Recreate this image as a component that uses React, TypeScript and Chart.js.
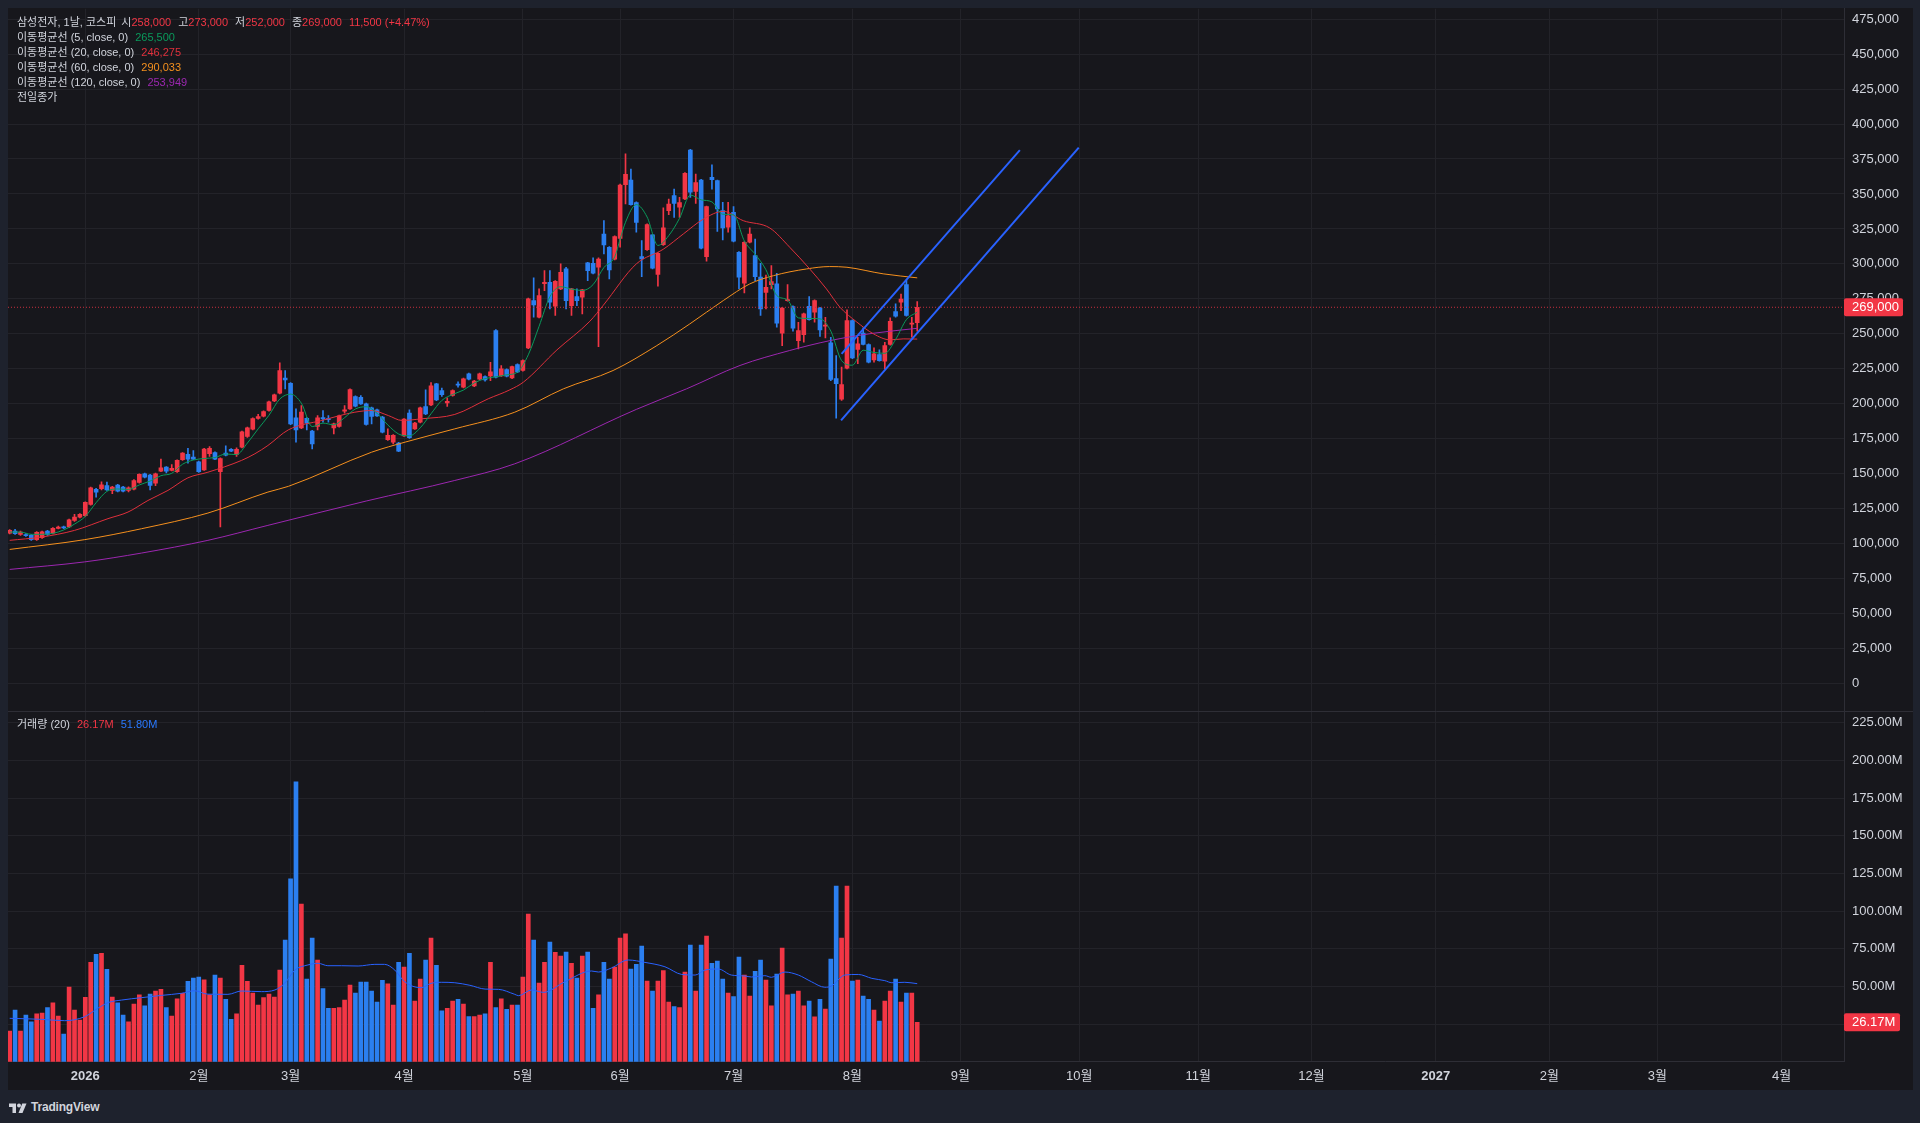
import React, { useEffect, useRef } from "react";
import { Chart, registerables } from "chart.js";

Chart.register(...registerables);

// ---------- data (prices in thousand KRW, volume in millions) ----------
const opens = [
  107.6,109.0,106.6,106.6,105.9,102.8,104.3,109.0,107.6,111.0,
  112.1,111.9,116.6,119.0,120.0,128.1,138.8,139.3,141.6,138.1,
  141.9,140.4,138.1,139.0,143.8,150.0,149.0,143.3,151.9,154.7,
  152.4,151.4,160.0,163.8,161.9,158.6,152.8,164.3,165.2,151.4,
  164.7,167.4,163.8,169.0,176.6,181.9,189.5,191.2,195.2,202.1,
  207.6,218.3,214.7,190.0,182.8,189.7,180.5,183.8,190.2,189.2,
  182.8,183.8,194.7,196.4,205.2,204.7,200.0,197.1,195.7,190.5,
  174.3,172.6,171.9,177.1,193.3,182.1,186.9,198.1,199.2,214.2,
  209.5,200.7,205.9,214.0,211.9,221.4,212.8,217.6,219.5,220.0,
  252.4,220.0,224.5,218.5,228.1,223.8,239.9,273.8,261.9,285.8,
  286.9,269.7,282.1,296.4,270.2,276.6,276.2,300.7,300.5,297.6,
  321.4,311.9,303.3,318.3,356.6,360.0,343.8,305.2,310.2,320.7,
  292.4,313.8,338.1,348.8,340.5,346.4,381.4,351.9,360.0,305.2,
  361.9,359.5,338.1,326.2,336.9,308.3,286.2,315.5,305.9,290.5,
  279.7,285.2,285.7,250.5,273.8,269.5,245.2,249.5,269.7,265.5,
  268.5,255.5,243.6,218.1,203.3,225.4,259.5,238.8,250.5,242.4,
  231.4,235.2,230.5,242.4,265.9,272.6,285.2,257.0,258.0,
];
const highs = [
  110.0,110.2,109.0,107.2,106.5,108.6,109.0,109.5,111.5,112.5,
  112.6,117.6,120.9,121.5,130.0,140.5,139.5,144.3,144.0,141.0,
  142.5,141.0,140.6,145.8,150.0,150.5,149.5,150.5,160.5,155.2,
  156.6,160.0,165.2,168.1,166.6,159.0,168.1,169.5,165.7,161.4,
  170.0,167.9,168.5,180.5,183.3,190.0,192.4,195.0,202.0,207.0,
  229.3,223.8,215.2,196.4,198.8,190.2,181.0,191.6,195.2,191.6,
  186.2,192.0,198.8,210.7,205.7,205.9,200.5,197.6,196.2,191.0,
  182.1,178.0,172.4,189.5,195.7,186.7,197.6,210.0,215.2,214.7,
  211.2,204.3,210.0,215.7,218.3,221.9,216.7,221.9,220.0,229.7,
  253.0,227.4,225.0,227.0,228.6,231.4,275.5,290.0,282.1,295.2,
  295.2,288.1,300.0,297.6,282.6,282.1,281.9,301.2,304.3,304.3,
  330.9,312.4,320.0,357.0,378.6,367.8,344.3,316.6,328.6,321.2,
  308.1,340.0,346.4,353.5,347.6,365.2,381.9,364.3,360.5,341.4,
  370.9,360.0,344.0,344.0,340.9,308.8,316.0,325.7,317.8,300.5,
  292.1,298.8,293.3,269.0,285.2,270.0,258.3,264.8,276.6,274.3,
  269.0,261.9,247.6,234.5,226.2,267.1,260.0,247.6,254.3,242.9,
  240.0,238.6,244.0,261.4,271.4,278.5,288.6,261.9,273.0,
];
const lows = [
  107.0,106.6,106.0,105.2,102.3,102.3,103.8,106.0,107.0,110.5,
  110.8,111.5,116.0,118.5,119.5,127.5,133.3,138.5,138.0,135.7,
  137.0,137.0,137.0,138.5,143.3,147.0,138.5,141.4,151.4,150.5,
  152.0,151.0,159.5,157.6,160.0,151.0,152.3,162.4,160.0,111.9,
  162.8,165.7,162.4,168.5,176.0,181.4,189.0,190.7,194.7,201.6,
  207.1,210.7,185.0,172.6,182.3,181.4,167.8,181.4,186.9,186.9,
  178.5,183.3,193.3,195.9,197.8,199.5,184.7,185.7,190.9,179.2,
  173.8,171.4,165.7,176.6,175.2,181.6,186.4,192.3,198.7,202.3,
  205.2,198.1,205.4,211.9,211.4,217.1,212.3,217.1,216.2,216.6,
  218.5,219.5,219.2,218.0,222.3,223.3,239.4,261.9,261.4,280.9,
  267.8,263.1,281.6,267.8,263.1,270.2,264.3,288.1,292.8,240.9,
  307.1,289.3,302.8,311.9,342.8,342.0,322.6,290.9,309.7,296.5,
  284.0,313.3,335.2,333.3,333.3,345.9,347.6,343.3,310.7,301.9,
  353.5,323.3,317.1,322.6,315.7,282.1,279.3,315.0,288.1,263.1,
  267.8,282.1,254.8,241.6,273.3,251.9,239.3,244.0,259.7,258.3,
  248.1,247.1,216.6,189.7,202.4,225.0,232.3,228.6,242.0,229.2,
  229.7,230.4,224.9,241.9,261.9,266.6,262.6,247.6,252.0,
];
const closes = [
  109.5,107.1,108.3,105.7,102.8,108.1,108.5,106.6,111.0,111.9,
  111.2,117.1,119.0,120.9,129.5,140.0,136.9,142.1,138.5,140.4,
  137.6,137.6,140.0,145.2,149.5,147.6,141.6,150.0,154.3,151.9,
  153.8,159.5,164.7,160.5,160.5,151.4,167.6,168.1,160.5,160.9,
  163.3,166.2,167.4,180.0,182.8,189.5,190.9,194.5,201.4,206.4,
  223.8,217.1,185.7,181.4,194.0,186.2,171.4,190.0,189.2,188.7,
  185.7,191.4,195.7,210.2,198.3,200.0,185.2,190.9,191.4,179.7,
  177.4,177.4,166.2,189.0,175.7,186.2,197.1,192.8,212.8,202.8,
  206.6,201.7,209.5,213.3,217.8,217.6,216.2,221.4,217.1,222.8,
  219.0,225.0,219.7,226.6,222.8,230.9,275.0,270.7,277.4,286.8,
  272.6,287.6,294.0,273.8,282.1,273.8,281.4,295.2,293.3,303.5,
  313.5,295.7,319.5,356.4,364.0,342.4,329.7,303.5,328.1,297.0,
  307.6,325.7,342.8,343.3,343.8,364.7,351.2,358.1,311.2,340.9,
  360.2,339.3,325.7,334.3,316.2,290.5,315.5,321.4,290.9,267.8,
  283.3,287.4,257.6,268.5,274.3,254.0,252.4,264.3,260.2,273.8,
  252.8,256.0,217.4,214.3,213.8,259.5,232.8,242.8,242.4,229.7,
  235.7,230.9,241.6,259.0,262.6,274.9,263.1,257.5,269.0,
];
const volumes = [
  20.4,34.3,20.4,31.0,26.4,31.7,32.3,35.9,39.0,30.3,
  18.4,49.6,34.3,27.7,42.7,65.9,71.2,71.9,61.3,42.9,
  39.0,31.0,26.4,38.3,44.3,37.0,44.9,46.9,48.0,35.9,
  30.3,41.8,45.4,53.3,55.5,56.2,54.4,44.3,57.5,55.5,
  41.4,28.1,31.7,63.9,53.3,45.6,37.6,42.5,44.9,42.9,
  60.8,80.7,121.4,185.7,104.6,54.9,82.1,67.5,48.5,35.4,
  35.4,35.9,40.9,50.9,45.6,52.9,52.9,46.9,39.6,54.0,
  51.6,37.6,65.9,62.8,71.9,40.3,54.9,67.5,82.1,63.9,
  33.7,35.4,40.3,41.4,38.3,29.9,29.9,31.0,31.7,65.9,
  35.9,41.8,34.8,37.6,37.6,56.2,98.0,80.7,52.2,65.9,
  79.4,72.5,70.1,72.8,65.3,55.5,70.1,72.8,35.4,44.3,
  65.9,54.9,62.8,82.1,84.9,61.5,64.6,76.8,53.5,46.9,
  53.5,60.4,39.6,36.5,35.9,59.5,77.4,46.9,77.4,83.4,
  65.3,66.8,54.9,45.6,43.2,69.5,57.5,43.6,60.0,67.5,
  54.2,37.0,58.2,75.4,44.3,44.9,46.9,37.0,40.3,29.7,
  41.4,35.0,68.1,116.5,82.1,116.5,53.5,54.2,43.6,41.4,
  34.3,27.0,40.3,46.9,54.9,39.6,45.6,45.6,26.17,
];

// moving averages (bar index, value)
const ma5Idx = [0,2,4,6,8,10,12,14,16,18,20,22,24,26,28,30,32,34,36,38,40,42,44,46,48,50,52,54,56,58,60,62,64,66,68,70,72,74,76,78,80,82,84,86,88,90,92,94,96,98,100,102,104,106,108,110,112,113,114,116,118,120,122,124,126,128,130,132,134,136,138,140,142,144,146,148,150,152,154,156,158,160,162,164,166,168];
const ma5Val = [108.3,108.3,106.7,106.7,107.4,109.8,114.0,119.5,129.3,137.4,139.1,138.8,142.0,144.8,148.6,150.3,156.8,159.8,160.9,161.6,164.1,163.7,171.9,182.1,191.8,203.4,206.9,200.4,183.7,186.2,185.0,190.1,196.3,197.9,193.2,184.9,178.4,177.1,182.8,192.9,202.4,206.7,209.8,214.9,218.0,219.3,220.7,222.6,235.0,255.4,276.5,283.7,282.0,281.0,285.2,297.4,305.1,317.7,329.8,342.4,333.5,313.2,320.2,332.6,349.2,345.8,344.3,335.5,335.1,316.4,306.9,295.8,277.4,274.2,261.4,261.0,260.7,252.0,230.9,227.6,238.3,236.7,236.1,246.0,260.2,265.5];
const ma20Idx = [0,5.8,12,18.2,21.9,25.6,29.3,33,36.7,42.9,45.4,47.8,51.6,57.8,63.9,67,70.1,72.6,76.3,82.4,88.6,92.6,95.1,101.3,107.4,109.9,116,121,124.7,128.4,132.1,135.8,140.7,144.4,148.1,151.2,153.7,156.8,159.9,163,165.4,168];
const ma20Val = [102.4,104.7,109.5,117.9,122.6,130.9,138.1,147.1,151.1,159.5,164.3,170.2,181.4,188.1,194.0,195.2,191.6,188.1,189.3,192.4,203.6,210.0,215.5,238.5,259.0,270.5,300.0,310.5,321.4,332.0,337.6,330.9,325.7,311.9,296.4,282.1,269.0,258.5,250.0,245.7,246.4,246.275];
const ma60Idx = [0,13.9,24.4,36.7,47.8,51.6,67,73.2,82.4,93.5,102.5,111.7,119.8,125.9,132.1,137,141.4,147.5,151.8,155,161.7,168];
const ma60Val = [95.9,102.9,110.7,121.9,136.9,141.0,165.4,172.6,182.1,194.0,210.7,223.8,241.6,257.1,273.8,285.7,291.6,296.4,298.1,297.6,292.9,290.033];
const ma120Idx = [0,13.9,24.4,36.7,47.8,66,82.4,93.5,116,125.3,135.2,144.4,151.9,159.8,168];
const ma120Val = [81.6,87.0,93.3,102.4,113.1,130.5,145.2,157.1,196.0,210.7,227.4,238.1,245.2,250.4,253.949];
const volMaIdx = [0,5.9,10.2,13.9,16.3,18.2,20.7,24.4,28.1,31.8,34.2,36.7,40.4,42.9,46.6,49.1,50.9,52.8,55.2,57.1,58.9,61.4,64.5,67.6,69.4,71.3,73.1,76.2,78,79.9,82.4,85.2,88,90.5,93.5,94.2,96.6,98.8,102.8,107.7,109,111.4,114.5,117.6,121.3,124.4,126.9,128.7,131.2,133.6,136.1,137.3,139.8,141,143.5,146,148.4,150.9,152.1,154.6,157.1,159.6,162,163.3,165.7,168];
const volMaVal = [28.8,28.1,27.2,29.9,35.4,39.2,40.9,42.5,44.0,45.4,47.1,44.8,44.7,46.9,46.5,47.6,52.0,60.8,64.2,65.3,63.7,63.7,63.5,64.6,64.6,60.8,53.1,49.1,52.0,52.7,52.4,50.7,48.2,48.0,44.7,43.8,47.6,46.0,53.1,60.2,59.5,62.2,67.5,65.9,63.0,57.9,57.5,60.8,61.5,57.5,56.9,56.2,57.1,56.0,59.5,57.5,53.1,49.4,50.2,57.5,57.9,55.3,53.8,52.4,52.7,51.8];

// trend channel (bar index, price)
const chanUpperIdx = [154.0, 187.0];
const chanUpperVal = [235.7, 381.4];
const chanLowerIdx = [153.9, 197.9];
const chanLowerVal = [188.1, 383.1];

// axis ticks
const monthIdx = [14, 35, 52, 73, 95, 113, 134, 156, 176, 198, 220, 241, 264, 285, 305, 328];
const monthLabels = ["2026", "2월", "3월", "4월", "5월", "6월", "7월", "8월", "9월", "10월", "11월", "12월", "2027", "2월", "3월", "4월"];
const priceTicks = [0,25,50,75,100,125,150,175,200,225,250,275,300,325,350,375,400,425,450,475];
const volTicks = [25, 50, 75, 100, 125, 150, 175, 200, 225];

// ---------- style ----------
const FONT = '"Liberation Sans", "Noto Sans CJK KR", Arial, sans-serif';
const FRAME = "#1e222d";
const BG = "#17171c";
const GRID = "#232329";
const AXIS = "#2e2e36";
const TEXT = "#d1d4dc";
const RED = "#f23645";
const BLUE = "#2b7ff0";
const C_MA5 = "#0a9a5c";
const C_MA20 = "#e0303c";
const C_MA60 = "#f5901e";
const C_MA120 = "#9c27b0";
const C_VOLMA = "#2962ff";
const C_CHAN = "#2962ff";
const TOP_SHIFT = 15; // compensates the chart-area top inset of the stacked layout

const fmtP = (v: number) => Math.round(v * 1000).toLocaleString("en-US");
const pts = (xs: number[], ys: number[]) => xs.map((x, i) => ({ x, y: ys[i] }));

export default function App() {
  const ref = useRef<HTMLCanvasElement | null>(null);

  const n = closes.length;
  const lastO = opens[n - 1], lastH = highs[n - 1], lastL = lows[n - 1], lastC = closes[n - 1];
  const prevC = closes[n - 2];
  const chg = lastC - prevC;
  const pct = (chg / prevC) * 100;
  const lastVol = volumes[n - 1];
  const lastVolMa = volMaVal[volMaVal.length - 1];

  useEffect(() => {
    const idx = closes.map((_, i) => i);
    const colors = idx.map((i) => (closes[i] >= opens[i] ? RED : BLUE));
    const X_MIN = -0.31, X_MAX = 339.56;

    const overlay = {
      id: "overlay",
      afterDraw(chart: any) {
        const ctx = chart.ctx;
        const y = chart.scales.y;
        const yv = chart.scales.yv;
        const area = chart.chartArea;
        ctx.save();
        ctx.strokeStyle = AXIS;
        ctx.lineWidth = 1;
        ctx.beginPath();
        const sy = Math.round(Math.min(y.bottom, yv.top)) + 0.5;
        ctx.moveTo(0, sy);
        ctx.lineTo(chart.width, sy);
        ctx.stroke();
        const box = (py: number, w: number, text: string) => {
          ctx.fillStyle = RED;
          ctx.beginPath();
          ctx.roundRect(area.right, py - 9, w, 18, 2);
          ctx.fill();
          ctx.fillStyle = "#ffffff";
          ctx.font = `13px ${FONT}`;
          ctx.textBaseline = "middle";
          ctx.textAlign = "left";
          ctx.fillText(text, area.right + 8, py + 0.5);
        };
        box(y.getPixelForValue(lastC), 59, fmtP(lastC));
        box(yv.getPixelForValue(lastVol), 56, lastVol.toFixed(2) + "M");
        ctx.restore();
      },
    };

    const lineDs = (label: string, data: any[], color: string, axis: string, width = 1, order = 3) => ({
      type: "line" as const,
      label,
      data,
      yAxisID: axis,
      borderColor: color,
      borderWidth: width,
      pointRadius: 0,
      cubicInterpolationMode: "monotone" as const,
      order,
    });

    const chart = new Chart(ref.current as HTMLCanvasElement, {
      type: "bar",
      data: {
        datasets: [
          {
            type: "bar",
            label: "body",
            data: idx.map((i) => ({ x: i, y: [opens[i], closes[i]] })) as any,
            yAxisID: "y",
            backgroundColor: colors,
            barThickness: 4,
            grouped: false,
            minBarLength: 1,
            order: 5,
          },
          {
            type: "bar",
            label: "wick",
            data: idx.map((i) => ({ x: i, y: [lows[i], highs[i]] })) as any,
            yAxisID: "y",
            backgroundColor: colors,
            barThickness: 1,
            grouped: false,
            order: 6,
          },
          {
            type: "bar",
            label: "volume",
            data: idx.map((i) => ({ x: i, y: volumes[i] })) as any,
            yAxisID: "yv",
            backgroundColor: colors,
            barThickness: 4,
            grouped: false,
            order: 7,
          },
          lineDs("MA5", pts(ma5Idx, ma5Val), C_MA5, "y"),
          lineDs("MA20", pts(ma20Idx, ma20Val), C_MA20, "y"),
          lineDs("MA60", pts(ma60Idx, ma60Val), C_MA60, "y"),
          lineDs("MA120", pts(ma120Idx, ma120Val), C_MA120, "y"),
          lineDs("VolMA", pts(volMaIdx, volMaVal), C_VOLMA, "yv"),
          lineDs("chanU", pts(chanUpperIdx, chanUpperVal), C_CHAN, "y", 2, 1),
          lineDs("chanL", pts(chanLowerIdx, chanLowerVal), C_CHAN, "y", 2, 1),
          {
            ...lineDs("last", [{ x: X_MIN, y: lastC }, { x: X_MAX, y: lastC }], "#c8303f", "y", 1, 2),
            borderDash: [1, 2],
            cubicInterpolationMode: "default" as const,
          },
        ] as any,
      },
      options: {
        responsive: false,
        animation: false,
        events: [],
        layout: { padding: 0, autoPadding: false } as any,
        plugins: { legend: { display: false }, tooltip: { enabled: false } },
        scales: {
          x: {
            type: "linear",
            min: X_MIN,
            max: X_MAX,
            offset: false,
            position: "bottom",
            afterFit: (s: any) => { s.height = 28.3; },
            afterBuildTicks: (s: any) => { s.ticks = monthIdx.map((v) => ({ value: v })); },
            ticks: {
              autoSkip: false,
              maxRotation: 0,
              padding: 7,
              color: TEXT,
              font: (c: any) => ({
                family: FONT,
                size: 13,
                weight: monthLabels[c.index] && /^\d{4}$/.test(monthLabels[c.index]) ? "bold" : "normal",
              }),
              callback: (_v: any, i: number) => monthLabels[i],
            },
            grid: { color: GRID, drawTicks: false, offset: false },
            border: { display: true, color: AXIS },
          },
          y: {
            type: "linear",
            position: "right",
            stack: "main",
            stackWeight: 703,
            min: -19.79,
            max: 482.36,
            afterFit: (s: any) => { s.width = 69; },
            afterBuildTicks: (s: any) => { s.ticks = priceTicks.map((v) => ({ value: v })); },
            ticks: {
              autoSkip: false,
              padding: 8,
              color: TEXT,
              font: { family: FONT, size: 13 },
              callback: (v: any) => fmtP(Number(v)),
            },
            grid: { color: GRID, drawTicks: false },
            border: { display: true, color: AXIS },
          },
          yv: {
            type: "linear",
            position: "right",
            stack: "main",
            stackWeight: 350.7,
            min: 0,
            max: 232.56,
            afterFit: (s: any) => { s.width = 69; },
            afterBuildTicks: (s: any) => { s.ticks = volTicks.map((v) => ({ value: v })); },
            ticks: {
              autoSkip: false,
              padding: 8,
              color: TEXT,
              font: { family: FONT, size: 13 },
              callback: (v: any) => Number(v).toFixed(2) + "M",
            },
            grid: { color: GRID, drawTicks: false },
            border: { display: true, color: AXIS },
          },
        } as any,
      },
      plugins: [overlay],
    });
    return () => chart.destroy();
  }, []);

  const line: React.CSSProperties = { whiteSpace: "nowrap", height: 15.1 };
  const gap = (m: number): React.CSSProperties => ({ marginLeft: m });
  const ma = (p: string, v: number, c: string) => (
    <div style={line}>
      이동평균선 ({p}, close, 0)<span style={{ ...gap(7), color: c }}>{fmtP(v)}</span>
    </div>
  );

  return (
    <div style={{ position: "absolute", left: 0, top: 0, width: 1920, height: 1123, background: FRAME, overflow: "hidden", fontFamily: FONT }}>
      <div style={{ position: "absolute", left: 8, top: 8, width: 1905, height: 1082, background: BG, overflow: "hidden" }}>
        <canvas
          ref={ref}
          width={1905}
          height={1082 + TOP_SHIFT}
          style={{ display: "block", position: "absolute", left: 0, top: -TOP_SHIFT }}
        />
      </div>
      <div style={{ position: "absolute", left: 17, top: 15, fontSize: 11, lineHeight: "15.1px", color: TEXT }}>
        <div style={line}>
          삼성전자, 1날, 코스피
          <span style={gap(5)}>시</span><span style={{ color: RED }}>{fmtP(lastO)}</span>
          <span style={gap(7)}>고</span><span style={{ color: RED }}>{fmtP(lastH)}</span>
          <span style={gap(7)}>저</span><span style={{ color: RED }}>{fmtP(lastL)}</span>
          <span style={gap(7)}>종</span><span style={{ color: RED }}>{fmtP(lastC)}</span>
          <span style={{ ...gap(7), color: RED }}>
            {fmtP(chg)} ({chg >= 0 ? "+" : ""}{pct.toFixed(2)}%)
          </span>
        </div>
        {ma("5", ma5Val[ma5Val.length - 1], C_MA5)}
        {ma("20", ma20Val[ma20Val.length - 1], C_MA20)}
        {ma("60", ma60Val[ma60Val.length - 1], C_MA60)}
        {ma("120", ma120Val[ma120Val.length - 1], C_MA120)}
        <div style={line}>전일종가</div>
      </div>
      <div style={{ position: "absolute", left: 17, top: 717, fontSize: 11, lineHeight: "15px", color: TEXT, whiteSpace: "nowrap" }}>
        거래량 (20)
        <span style={{ ...gap(7), color: RED }}>{lastVol.toFixed(2)}M</span>
        <span style={{ ...gap(7), color: "#2979ff" }}>{lastVolMa.toFixed(2)}M</span>
      </div>
      <div style={{ position: "absolute", left: 9, top: 1099, height: 16, display: "flex", alignItems: "center", color: TEXT }}>
        <svg width="18" height="11" viewBox="0 0 36 22" style={{ display: "block" }}>
          <path d="M14 22H7V10H0V3h14z" fill={TEXT} />
          <circle cx="20" cy="7" r="4" fill={TEXT} />
          <path d="M27 22h-8l7.5-19h8.5z" fill={TEXT} />
        </svg>
        <span style={{ marginLeft: 4, fontSize: 12, fontWeight: 600, letterSpacing: -0.2 }}>TradingView</span>
      </div>
    </div>
  );
}
